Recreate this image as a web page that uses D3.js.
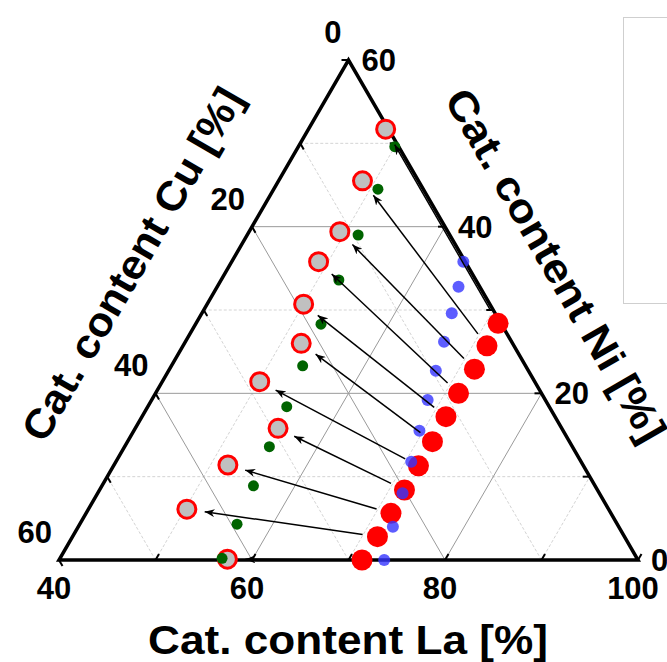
<!DOCTYPE html>
<html>
<head>
<meta charset="utf-8">
<script src="https://cdn.jsdelivr.net/npm/d3@7"></script>
<style>
  body { margin: 0; background: #fff; }
  text { font-family: "Liberation Sans", Arial, sans-serif; font-weight: bold; fill: #000; }
</style>
</head>
<body>
<svg id="chart" width="667" height="662"></svg>
<script>
// tick values on each axis (cation content, %)
var gridTicks = [0, 10, 20, 30, 40, 50, 60];
var laLabels = [40, 60, 80, 100];
var cuLabels = [0, 20, 40, 60];
var niLabels = [0, 20, 40, 60];
var majorSteps = [20, 40];
var minorSteps = [10, 30, 50];

// series: La and Ni content in %, Cu is the rest
var redLa = [71.3, 71.5, 71.6, 71.4, 71.5, 71.6, 71.6, 71.6, 71.6, 71.6, 71.4];
var redNi = [28.4, 25.7, 22.9, 20.0, 17.2, 14.2, 11.3, 8.4, 5.6, 2.8, 0];
var blueLa = [64.0, 65.0, 65.9, 66.8, 67.7, 68.6, 69.6, 70.6, 71.6, 72.6, 73.7];
var blueNi = [35.8, 32.8, 29.6, 26.2, 22.7, 19.2, 15.5, 11.8, 8.0, 4.0, 0];
var greenLa = [50.0, 50.8, 51.5, 52.2, 53.0, 53.6, 54.4, 55.0, 55.7, 56.3, 56.8];
var greenNi = [49.6, 44.5, 39.0, 33.6, 28.3, 23.3, 18.4, 13.6, 8.9, 4.3, 0.2];
var grayLa = [48.0, 48.7, 49.4, 49.0, 50.0, 52.1, 50.1, 54.8, 51.8, 50.2, 57.4];
var grayNi = [51.7, 45.5, 39.4, 35.8, 30.7, 26.0, 21.4, 15.8, 11.4, 6.1, 0.1];

var svg = d3.select("#chart");

// La runs along the base, Ni is the height
var xLa = d3.scaleLinear().domain([40, 100]).range([59, 638]);
var yNi = d3.scaleLinear().domain([0, 60]).range([560, 60]);

function px(la, ni) { return xLa(la) + (xLa(40 + ni) - xLa(40)) / 2; }
function py(ni) { return yNi(ni); }

var line = d3.line();

// grid
function gridLines(vals) {
  var segs = [];
  vals.forEach(function (v) {
    // constant Ni
    segs.push([[px(40, v), py(v)], [px(100 - v, v), py(v)]]);
    // constant La
    segs.push([[px(40 + v, 0), py(0)], [px(40 + v, 60 - v), py(60 - v)]]);
    // constant Cu
    segs.push([[px(100 - v, 0), py(0)], [px(40, 60 - v), py(60 - v)]]);
  });
  return segs;
}

svg.append("g").selectAll("path").data(gridLines(minorSteps)).join("path")
  .attr("d", line)
  .attr("stroke", "#d4d4d4").attr("stroke-width", 1)
  .attr("stroke-dasharray", "3,2").attr("fill", "none");

svg.append("g").selectAll("path").data(gridLines(majorSteps)).join("path")
  .attr("d", line)
  .attr("stroke", "#9a9a9a").attr("stroke-width", 1).attr("fill", "none");

// axis titles
function title(sel, txt) {
  sel.attr("text-anchor", "middle")
    .attr("textLength", 400).attr("lengthAdjust", "spacingAndGlyphs")
    .style("font-size", "41px")
    .text(txt);
}
svg.append("text")
  .attr("x", 348).attr("y", 654)
  .call(title, "Cat. content La [%]");

svg.append("text")
  .attr("transform", "translate(132,264) rotate(-60)")
  .attr("dy", "0.35em")
  .call(title, "Cat. content Cu [%]");

svg.append("text")
  .attr("transform", "translate(556,265) rotate(60)")
  .attr("dy", "0.35em")
  .call(title, "Cat. content Ni [%]");

// empty legend frame at top right
svg.append("rect")
  .attr("x", 623.5).attr("y", 17.5).attr("width", 60).attr("height", 286)
  .attr("fill", "#fff").attr("stroke", "#cfcfcf");

// triangle
svg.append("path")
  .attr("d", line([[px(40, 0), py(0)], [px(100, 0), py(0)], [px(40, 60), py(60)]]) + "Z")
  .attr("fill", "none").attr("stroke", "#000").attr("stroke-width", 3.5)
  .attr("stroke-linejoin", "miter");

// ticks
var tl = 7;
var tickSegs = [];
gridTicks.forEach(function (v) {
  var bx = px(40 + v, 0), by = py(0);
  tickSegs.push([[bx, by], [bx + tl * 0.5, by - tl * 0.866]]);
  var lx = px(40, 60 - v), ly = py(60 - v);
  tickSegs.push([[lx, ly], [lx + tl * 0.5, ly + tl * 0.866]]);
  var rx = px(100 - v, v), ry = py(v);
  tickSegs.push([[rx, ry], [rx - tl, ry]]);
});
svg.append("g").selectAll("path").data(tickSegs).join("path")
  .attr("d", line).attr("stroke", "#000").attr("stroke-width", 2);

// tick labels
svg.append("g").selectAll("text").data(laLabels).join("text")
  .attr("x", function (d) { return px(d, 0) - 5; })
  .attr("y", 599)
  .attr("text-anchor", "middle")
  .style("font-size", "31px")
  .text(function (d) { return d; });

svg.append("g").selectAll("text").data(cuLabels).join("text")
  .attr("x", function (d) { return px(40, 60 - d) - 7; })
  .attr("y", function (d) { return py(60 - d) - 17; })
  .attr("text-anchor", "end")
  .style("font-size", "31px")
  .text(function (d) { return d; });

svg.append("g").selectAll("text").data(niLabels).join("text")
  .attr("x", function (d) { return px(100 - d, d) + 13; })
  .attr("y", function (d) { return py(d) + 11; })
  .attr("text-anchor", "start")
  .style("font-size", "31px")
  .text(function (d) { return d; });

// markers
var idx = d3.range(redLa.length);

svg.append("g").selectAll("circle").data(idx).join("circle")
  .attr("cx", function (i) { return px(redLa[i], redNi[i]); })
  .attr("cy", function (i) { return py(redNi[i]); })
  .attr("r", 10.5).attr("fill", "#ff0000");

svg.append("g").selectAll("circle").data(idx).join("circle")
  .attr("cx", function (i) { return px(blueLa[i], blueNi[i]); })
  .attr("cy", function (i) { return py(blueNi[i]); })
  .attr("r", 6).attr("fill", "#3535ff").attr("fill-opacity", 0.8);

svg.append("g").selectAll("circle").data(idx).join("circle")
  .attr("cx", function (i) { return px(grayLa[i], grayNi[i]); })
  .attr("cy", function (i) { return py(grayNi[i]); })
  .attr("r", 9).attr("fill", "#c0c0c0")
  .attr("stroke", "#ff0000").attr("stroke-width", 3);

svg.append("g").selectAll("circle").data(idx).join("circle")
  .attr("cx", function (i) { return px(greenLa[i], greenNi[i]); })
  .attr("cy", function (i) { return py(greenNi[i]); })
  .attr("r", 5.5).attr("fill", "#006400");

// arrows from red points to the grey circles
svg.append("defs").append("marker")
  .attr("id", "head")
  .attr("viewBox", "0 0 10 8")
  .attr("refX", 10).attr("refY", 4)
  .attr("markerWidth", 10).attr("markerHeight", 8)
  .attr("markerUnits", "userSpaceOnUse")
  .attr("orient", "auto")
  .append("path").attr("d", "M0,0L10,4L0,8L3,4Z").attr("fill", "#000");

svg.append("g").selectAll("path").data(idx).join("path")
  .attr("d", function (i) {
    var x1 = px(redLa[i], redNi[i]), y1 = py(redNi[i]);
    var x2 = px(grayLa[i], grayNi[i]), y2 = py(grayNi[i]);
    var dx = x2 - x1, dy = y2 - y1, len = Math.sqrt(dx * dx + dy * dy);
    var ux = dx / len, uy = dy / len;
    return line([[x1 + ux * 15, y1 + uy * 15], [x2 - ux * 18, y2 - uy * 18]]);
  })
  .attr("stroke", "#000").attr("stroke-width", 1.5).attr("fill", "none")
  .attr("marker-end", "url(#head)");
</script>
</body>
</html>
